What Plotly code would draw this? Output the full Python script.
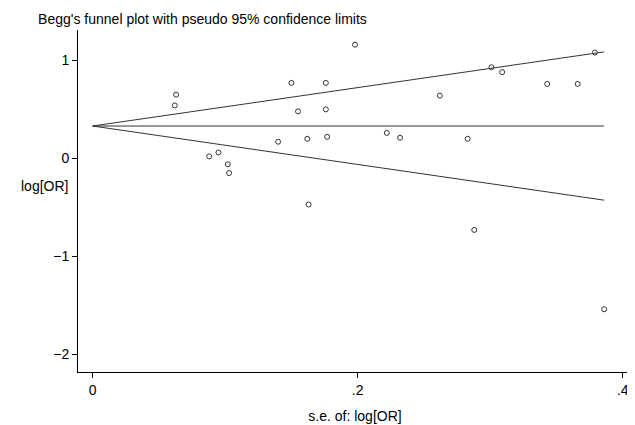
import plotly.graph_objects as go

se = [0.062, 0.063, 0.088, 0.095, 0.102, 0.103, 0.140, 0.150, 0.155, 0.162, 0.163,
      0.176, 0.176, 0.177, 0.198, 0.222, 0.232, 0.262, 0.283, 0.288, 0.301, 0.309,
      0.343, 0.366, 0.379, 0.386]
log_or = [0.54, 0.65, 0.02, 0.06, -0.06, -0.15, 0.17, 0.77, 0.48, 0.20, -0.47,
          0.77, 0.50, 0.22, 1.16, 0.26, 0.21, 0.64, 0.20, -0.73, 0.93, 0.88,
          0.76, 0.76, 1.08, -1.54]
pooled = 0.33
se_max = 0.386

line = dict(color="#333333", width=1)
fig = go.Figure()
for k in (1.96, 0, -1.96):
    fig.add_trace(go.Scatter(x=[0, se_max], y=[pooled, pooled + k * se_max],
                             mode="lines", line=line, hoverinfo="skip"))
fig.add_trace(go.Scatter(x=se, y=log_or, mode="markers",
                         marker=dict(symbol="circle-open", size=5, color="#333333",
                                     line=dict(width=1))))

axis = dict(showgrid=False, zeroline=False, showline=True, linecolor="black",
            ticks="outside", ticklen=5, tickcolor="black",
            tickfont=dict(size=14, color="black"))
fig.update_layout(
    width=627, height=417, showlegend=False,
    plot_bgcolor="white", paper_bgcolor="white",
    font=dict(family="Liberation Sans, Arial", color="black"),
    margin=dict(l=70, r=3, t=22, b=53),
    title=dict(text="Begg's funnel plot with pseudo 95% confidence limits",
               x=0.048, y=0.985, xanchor="left", font=dict(size=14)),
    xaxis=dict(axis, range=[-0.011, 0.407], tickvals=[0, 0.2, 0.4],
               ticktext=["0", ".2", ".4"],
               title=dict(text="s.e. of: log[OR]", font=dict(size=14), standoff=14)),
    yaxis=dict(axis, range=[-2.18, 1.31], tickvals=[-2, -1, 0, 1]),
    annotations=[dict(text="log[OR]", xref="paper", yref="y", x=-0.015, y=-0.28,
                      xanchor="right", showarrow=False, font=dict(size=14))],
)
fig.write_html("out.html")
